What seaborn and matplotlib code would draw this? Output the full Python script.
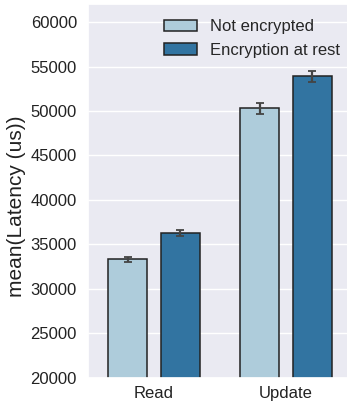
import matplotlib
matplotlib.use("Agg")
import matplotlib.pyplot as plt
import seaborn as sns
import pandas as pd

operations = ["Read", "Update"]
configs = ["Not encrypted", "Encryption at rest"]
mean_latency = {
    "Not encrypted": [33300, 50300],
    "Encryption at rest": [36300, 53900],
}
ci_halfwidth = {
    "Not encrypted": [300, 650],
    "Encryption at rest": [350, 650],
}

rows = []
for cfg in configs:
    for op, v in zip(operations, mean_latency[cfg]):
        rows.append({"operation": op, "config": cfg, "latency": v})
df = pd.DataFrame(rows)

sns.set_theme(style="darkgrid")
plt.rcParams["font.family"] = ["Liberation Sans", "DejaVu Sans"]
plt.rcParams["axes.labelcolor"] = "#222222"
plt.rcParams["xtick.color"] = "#222222"
plt.rcParams["ytick.color"] = "#222222"

W, H = 347, 404
fig = plt.figure(figsize=(W / 100, H / 100), dpi=100)
# axes run slightly past the right edge of the canvas
ax = fig.add_axes([88 / W, 26.5 / H, 264 / W, 373 / H])

sns.barplot(data=df, x="operation", y="latency", hue="config",
            hue_order=configs, order=operations, palette="Paired",
            errorbar=None, edgecolor="#222222", linewidth=1.1, ax=ax,
            width=0.8, gap=0.25)

# error bars at the bar centres
for cfg, container in zip(configs, ax.containers):
    for bar, err in zip(container, ci_halfwidth[cfg]):
        xc = bar.get_x() + bar.get_width() / 2
        ax.errorbar(xc, bar.get_height(), yerr=err, color="#444444",
                    capsize=2.6, elinewidth=1.6, capthick=1.3, zorder=5)

ax.set_xlim(-0.5, 1.5)
ax.set_ylim(20000, 62000)
ax.set_yticks(range(20000, 60001, 5000))
ax.set_xlabel("")
ax.set_ylabel("mean(Latency (us))", fontsize=15)
ax.yaxis.set_label_coords(-0.235, 0.46)
ax.tick_params(axis="both", labelsize=12, length=0)
ax.tick_params(axis="x", pad=6)
ax.tick_params(axis="y", pad=8)
ax.legend(loc="upper right", bbox_to_anchor=(1.012, 1.0), frameon=False,
          fontsize=12, handlelength=2.0, handleheight=0.7)
fig.savefig("out.png", dpi=100)
